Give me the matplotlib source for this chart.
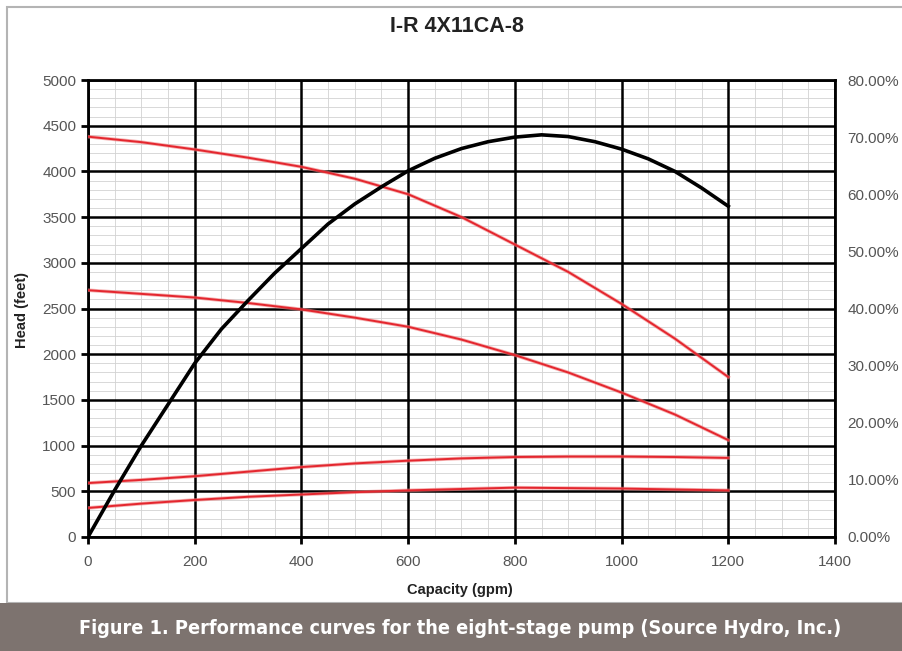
import matplotlib
matplotlib.use("Agg")
from matplotlib import pyplot as plt
from matplotlib.ticker import MultipleLocator, FuncFormatter
from matplotlib.patches import Rectangle

plt.rcParams['font.family'] = ['Liberation Sans', 'DejaVu Sans']

# capacity in gpm
capacity = [0, 100, 200, 300, 400, 500, 600, 700, 800, 900, 1000, 1100, 1200]

# head curves (feet)
head_a = [4380, 4320, 4240, 4150, 4050, 3920, 3750, 3500, 3200, 2900, 2550, 2170, 1750]
head_b = [2700, 2660, 2620, 2560, 2490, 2400, 2300, 2160, 1990, 1800, 1580, 1340, 1060]
head_c = [590, 625, 665, 715, 765, 805, 835, 860, 875, 880, 880, 875, 865]
head_d = [318, 365, 405, 440, 465, 490, 510, 525, 540, 535, 530, 520, 510]

# efficiency (fraction), right axis
eff_capacity = [0, 50, 100, 150, 200, 250, 300, 350, 400, 450, 500, 550, 600,
                650, 700, 750, 800, 850, 900, 950, 1000, 1050, 1100, 1150, 1200]
efficiency = [0.0, 0.082, 0.160, 0.232, 0.304, 0.364, 0.414, 0.462, 0.505, 0.548,
              0.583, 0.613, 0.641, 0.663, 0.680, 0.692, 0.700, 0.704, 0.701, 0.692,
              0.679, 0.662, 0.640, 0.611, 0.579]

x_ticks = [0, 200, 400, 600, 800, 1000, 1200, 1400]
y_ticks = [0, 500, 1000, 1500, 2000, 2500, 3000, 3500, 4000, 4500, 5000]
title = "I-R 4X11CA-8"
x_label = "Capacity (gpm)"
y_label = "Head (feet)"
caption = "Figure 1. Performance curves for the eight-stage pump (Source Hydro, Inc.)"

W, H = 903, 651
fig = plt.figure(figsize=(W / 100, H / 100), dpi=100)
fig.patch.set_facecolor("white")

# chart frame and caption bar
fig.patches.append(Rectangle((7 / W, (H - 603) / H), 1.0, (603 - 7) / H,
                             transform=fig.transFigure, fill=False,
                             edgecolor="#b4b4b4", linewidth=1.5))
fig.patches.append(Rectangle((0, 0), 1.0, (H - 603) / H, transform=fig.transFigure,
                             facecolor="#7d736f", edgecolor="none"))

left, right, top, bottom = 88, 835, 80, 537
ax = fig.add_axes([left / W, (H - bottom) / H, (right - left) / W, (bottom - top) / H])

red = "#e4262e"
for h in [head_a, head_b, head_c, head_d]:
    ax.plot(capacity, h, color="#f08080", linewidth=2.6, alpha=0.6, zorder=3)
    ax.plot(capacity, h, color=red, linewidth=1.4, zorder=4)

ax.set_xlim(0, 1400)
ax.set_ylim(0, 5000)
ax.set_xticks(x_ticks)
ax.set_yticks(y_ticks)
ax.xaxis.set_minor_locator(MultipleLocator(50))
ax.yaxis.set_minor_locator(MultipleLocator(100))
ax.grid(which="minor", color="#d2d2d2", linewidth=0.6)
ax.set_axisbelow(True)
# heavy major grid drawn above the light one
for xv in x_ticks:
    ax.axvline(xv, color="black", linewidth=1.8, zorder=1.5)
for yv in y_ticks:
    ax.axhline(yv, color="black", linewidth=1.8, zorder=1.5)
for s in ax.spines.values():
    s.set_linewidth(2)
    s.set_color("black")

ax.tick_params(axis="both", which="major", direction="out", length=5, width=2,
               labelsize=11, labelcolor="#555555", color="black")
ax.tick_params(axis="x", pad=8)
ax.tick_params(which="minor", length=0)

ax2 = ax.twinx()
ax2.plot(eff_capacity, efficiency, color="black", linewidth=2.6, zorder=5)
ax2.set_ylim(0, 0.8)
ax2.yaxis.set_major_locator(MultipleLocator(0.1))
ax2.yaxis.set_major_formatter(FuncFormatter(lambda v, p: f"{v * 100:.2f}%"))
ax2.tick_params(axis="y", length=0, pad=9, labelsize=11, labelcolor="#555555")
for s in ax2.spines.values():
    s.set_visible(False)

fig.text(457 / W, 1 - 27 / H, title, ha="center", va="center",
         fontsize=15.5, fontweight="bold", color="#222222")
fig.text(460 / W, 1 - 590 / H, x_label, ha="center", va="center",
         fontsize=10.5, fontweight="bold", color="#222222")
fig.text(22 / W, 1 - 310 / H, y_label, ha="center", va="center", rotation=90,
         fontsize=10.5, fontweight="bold", color="#222222")

fig.text(460 / W, 1 - 628 / H, caption, ha="center", va="center",
         fontsize=14.2, fontweight="bold", color="white",
         family=["Liberation Sans Narrow", "DejaVu Sans"], fontstretch="condensed")

fig.savefig("out.png", dpi=100)
